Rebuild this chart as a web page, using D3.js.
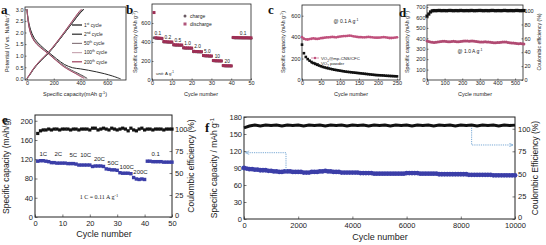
<!DOCTYPE html>
<html>
<head>
<meta charset="utf-8">
<script src="https://cdn.jsdelivr.net/npm/d3@7"></script>
<style>
  body { margin: 0; background: #fff; }
  svg { display: block; font-family: "Liberation Sans", Arial, sans-serif; }
  .tk text { fill: #222; }
  .tk line { stroke: #222; stroke-width: 0.6; }
  .tk path { display: none; }
</style>
</head>
<body>
<svg id="chart"></svg>
<script>
// ---- panel a : charge / discharge profiles [capacity, potential]
var aDis1   = [[0,3.0],[8,2.6],[25,2.15],[55,1.75],[100,1.45],[160,1.15],[220,0.87],[280,0.62],[340,0.48],[400,0.43],[460,0.37],[520,0.3],[580,0.22],[640,0.12],[685,0.03],[700,0]];
var aDis2   = [[0,3.0],[8,2.55],[25,2.05],[55,1.65],[100,1.38],[160,1.1],[220,0.8],[280,0.55],[330,0.38],[380,0.24],[420,0.12],[450,0.02]];
var aDis50  = [[0,3.0],[8,2.5],[25,2.0],[55,1.62],[100,1.36],[160,1.1],[220,0.8],[280,0.54],[330,0.37],[375,0.22],[415,0.1],[440,0.02]];
var aDis100 = [[0,3.0],[8,2.52],[25,2.02],[55,1.64],[100,1.37],[160,1.1],[220,0.79],[275,0.54],[325,0.36],[370,0.22],[410,0.1],[435,0.02]];
var aDis200 = [[0,3.0],[8,2.5],[25,2.0],[55,1.62],[100,1.35],[160,1.08],[220,0.78],[270,0.54],[320,0.36],[365,0.22],[400,0.1],[425,0.02]];
var aCha1   = [[0,0.02],[15,0.12],[45,0.38],[100,0.76],[160,1.1],[220,1.52],[280,1.97],[340,2.42],[400,2.86],[425,3.0]];
var aCha2   = [[0,0.02],[15,0.13],[45,0.4],[100,0.78],[160,1.12],[220,1.53],[280,1.98],[340,2.43],[400,2.87],[422,3.0]];
var aCha50  = [[0,0.02],[15,0.14],[45,0.4],[100,0.79],[160,1.13],[220,1.55],[280,2.0],[340,2.46],[395,2.88],[415,3.0]];
var aCha100 = [[0,0.02],[15,0.14],[45,0.41],[100,0.8],[160,1.14],[220,1.56],[280,2.02],[335,2.45],[392,2.9],[410,3.0]];
var aCha200 = [[0,0.02],[15,0.15],[45,0.42],[100,0.8],[160,1.15],[220,1.57],[280,2.03],[335,2.47],[390,2.9],[405,3.0]];
var aNames  = ["1", "2", "50", "100", "200"];
var aSup    = ["st", "nd", "th", "th", "th"];
var aColors = ["#111", "#2a2a2a", "#8a7a80", "#c9a9b4", "#9c3a5a"];

// ---- panel b : rate performance (cycles 1..50)
var bCycles = d3.range(1, 51);
var bDischarge = [710,445,442,440,438, 405,403,402,400,400, 372,370,370,368,368, 340,338,338,337,336,
                  302,300,300,299,298, 258,256,255,254,253, 205,204,203,202,201, 152,151,150,150,149,
                  448,447,447,446,446,445,445,445,444,444];
var bCharge    = [445,440,438,436,435, 400,399,398,397,397, 368,367,366,365,365, 336,335,334,334,333,
                  298,297,296,296,295, 254,253,252,251,251, 202,201,200,199,199, 149,148,148,147,147,
                  444,443,443,442,442,442,441,441,441,440];
var bRates  = ["0.1","0.2","0.5","1.0","2.0","5.0","10","20","0.1"];
var bRateX  = [3, 8, 13, 18, 23, 28, 33, 38, 46];
var bRateY  = [470, 432, 402, 370, 332, 288, 236, 184, 478];

// ---- panel c : cycling at 0.1 A/g (every 5 cycles)
var cCycles = d3.range(0, 251, 5);
var cComposite = [400,385,380,378,382,385,388,385,383,386,390,
                  392,395,397,398,400,402,400,398,402,405,
                  408,410,410,412,414,412,408,405,402,400,
                  400,398,398,400,402,400,398,396,395,395,
                  396,398,400,398,395,392,392,394,396,398];
var cPowder = [330,250,215,195,180,168,158,150,142,135,128,
               122,117,112,108,104,100,96,93,90,87,
               84,81,78,76,74,72,70,68,66,64,
               62,60,58,56,54,52,50,48,46,45,
               44,43,42,40,39,38,37,36,35,34];

// ---- panel d : long cycling at 1.0 A/g (every 10 cycles)
var dCycles = d3.range(0, 551, 10);
var dCapacity = [375,370,365,362,360,362,365,368,370,372,
                 372,370,368,368,370,372,370,368,368,370,
                 372,374,375,374,372,375,374,372,370,368,
                 366,365,366,368,366,364,362,360,358,358,
                 360,360,362,364,366,364,360,358,356,355,
                 352,350,348,350,348,345];
var dCE = [92,95,98,99.6,100,99.8,100,100.2,99.8,100,
           100,99.8,100,100.2,100,99.8,100,100,99.8,100.2,
           100,99.8,100,100,99.8,100.2,100,99.8,100,100,
           100.2,100,99.8,100,100,99.8,100,100.2,100,99.8,
           100,100,99.8,100,100.2,100,99.8,100,100,99.8,
           100,100.2,100,99.8,100,100];

// ---- panel e : rate test (cycles 1..50)
var eCycles = d3.range(1, 51);
var eCapacity = [116,117,117,116,115, 113,113,112,112,112, 112,111,111,111,110, 108,108,108,108,108,
                 105,106,106,106,105, 100,99,98,98,97, 92,91,91,91,90, 82,79,78,79,78,
                 116,116,115,115,115,115,114,114,114,114];
var eCE = [95,98,99,99,100,99,100,100,99,100, 100,100,99,100,100,99,100,100,100,99,
           101,101,99,100,101,100,99,101,100,99, 100,101,100,98,101,99,98,100,101,99,
           100,100,99,100,100,100,99,100,100,100];
var eRates = ["1C","2C","5C","10C","20C","50C","100C","200C","0.1"];
var eRateX = [3, 8.5, 14, 18.5, 23.5, 28.5, 33.5, 38.5, 44];
var eRateY = [127, 126, 125, 124, 117, 109, 100, 90, 127];

// ---- panel f : 10000 cycles (capacity every 100, CE every 200)
var fCycles = d3.range(0, 10001, 100);
var fCapacity = [90,89,88,88,87,87,86,86,86,85,85,
                 84,84,83,83,84,84,84,83,83,83,
                 83,82,82,82,83,83,83,84,84,85,
                 84,84,83,83,83,82,82,82,82,82,
                 82,82,81,81,81,81,81,80,80,80,
                 80,80,80,80,80,80,80,80,80,81,
                 81,81,81,81,80,80,80,80,80,80,
                 80,79,79,79,79,79,79,79,79,79,
                 79,79,78,78,78,78,78,78,78,78,
                 78,77,77,77,77,77,77,77,77,77];
var fCECycles = d3.range(0, 10001, 200);
var fCE = [101,103,104,103,104,103.5,104,103,104,103.5,
           104,103,104,103.5,104,103,104,103.5,104,103,
           104,103.5,104,103,104,103.5,104,103,104,103.5,
           104,103,104,103.5,104,103,104,103.5,104,103,
           104,103.5,104,103,104,103.5,104,103,104,103.5,104];

var svg = d3.select("#chart").attr("width", 546).attr("height", 245);
var serif = "'Liberation Serif', 'Times New Roman', serif";

function panel(o) {
  var g = svg.append("g");
  var x = d3.scaleLinear().domain(o.xd).range([o.x0, o.x1]);
  var y = d3.scaleLinear().domain(o.yd).range([o.y1, o.y0]);
  var y2 = o.yd2 ? d3.scaleLinear().domain(o.yd2).range([o.y1, o.y0]) : null;

  g.append("g").attr("class", "tk").attr("transform", "translate(0," + o.y1 + ")")
    .call(d3.axisBottom(x).tickValues(o.xt).tickFormat(o.xf || d3.format("d"))
      .tickSizeInner(-o.tk).tickSizeOuter(0).tickPadding(o.tpx || o.tp))
    .attr("font-size", o.fs).attr("font-family", null);
  g.append("g").attr("class", "tk").attr("transform", "translate(" + o.x0 + ",0)")
    .call(d3.axisLeft(y).tickValues(o.yt).tickFormat(o.yf || d3.format("d"))
      .tickSizeInner(-o.tk).tickSizeOuter(0).tickPadding(o.tp))
    .attr("font-size", o.fs).attr("font-family", null);
  if (y2) {
    var r = g.append("g").attr("class", "tk").attr("transform", "translate(" + o.x1 + ",0)")
      .call(d3.axisRight(y2).tickValues(o.yt2).tickFormat(d3.format("d"))
        .tickSizeInner(-o.tk).tickSizeOuter(0).tickPadding(o.tpr || o.tp))
      .attr("font-size", o.fs).attr("font-family", null);
    // lift the bottom "0" a touch so it clears the last x label
    if (o.lift) r.selectAll(".tick text").filter(function(d) { return d === 0; }).attr("dy", "0.1em");
  }
  g.append("rect").attr("x", o.x0).attr("y", o.y0)
    .attr("width", o.x1 - o.x0).attr("height", o.y1 - o.y0)
    .attr("fill", "none").attr("stroke", "#222").attr("stroke-width", o.sw || 0.8);
  return { g: g, x: x, y: y, y2: y2 };
}

function label(g, x, y, parts, size, rot, anchor) {
  var t = g.append("text").attr("x", x).attr("y", y)
    .attr("font-size", size).attr("fill", "#222")
    .attr("text-anchor", anchor || "middle");
  if (rot) t.attr("transform", "rotate(" + rot + "," + x + "," + y + ")");
  parts.forEach(function(p) {
    if (typeof p === "string") t.append("tspan").text(p);
    else t.append("tspan").attr("baseline-shift", p.sub ? "sub" : "super")
      .attr("font-size", size * 0.7).text(p.t);
  });
  return t;
}

function letter(x, y, s) {
  svg.append("text").attr("x", x).attr("y", y).attr("font-family", serif)
    .attr("font-weight", "bold").attr("font-size", 13).attr("fill", "#111").text(s);
}

// ================= a
var pa = panel({ x0: 25, x1: 126, y0: 7, y1: 80, xd: [-15, 740], yd: [-0.05, 3.1],
  xt: [0, 200, 400, 600], yt: [0, 0.5, 1, 1.5, 2, 2.5, 3], yf: d3.format(".1f"),
  fs: 5.5, tk: 1.5, tp: 1.5 });
var aLine = d3.line().x(function(d) { return pa.x(d[0]); }).y(function(d) { return pa.y(d[1]); }).curve(d3.curveMonotoneX);
var aLineY = d3.line().x(function(d) { return pa.x(d[0]); }).y(function(d) { return pa.y(d[1]); }).curve(d3.curveCatmullRom);
[aDis1, aDis2, aDis50, aDis100, aDis200].forEach(function(c, i) {
  pa.g.append("path").attr("d", aLineY(c)).attr("fill", "none").attr("stroke", aColors[i]).attr("stroke-width", 0.9);
});
[aCha1, aCha2, aCha50, aCha100, aCha200].forEach(function(c, i) {
  pa.g.append("path").attr("d", aLine(c)).attr("fill", "none").attr("stroke", aColors[i]).attr("stroke-width", 0.9);
});
aNames.forEach(function(n, i) {
  var yy = 25 + i * 9.2;
  pa.g.append("line").attr("x1", 72).attr("x2", 82).attr("y1", yy).attr("y2", yy)
    .attr("stroke", aColors[i]).attr("stroke-width", 1.2);
  label(pa.g, 84, yy + 1.8, [n, { t: aSup[i] }, " cycle"], 4.8, 0, "start");
});
label(svg, 75, 96, ["Specific capacity(mAh g", { t: "-1" }, ")"], 5.5);
label(svg, 9, 43, ["Potential (V vs. Na/Na", { t: "+" }, ")"], 5.5, -90);
letter(1, 14, "a");

// ================= b
var pb = panel({ x0: 152, x1: 251, y0: 4, y1: 80, xd: [0, 50], yd: [0, 800],
  xt: [0, 10, 20, 30, 40, 50], yt: [0, 200, 400, 600], fs: 5.5, tk: 1.5, tp: 1.5 });
pb.g.selectAll(".chg").data(bCycles).enter().append("circle")
  .attr("cx", function(d) { return pb.x(d); })
  .attr("cy", function(d, i) { return pb.y(bCharge[i]); })
  .attr("r", 1.5).attr("fill", "#6a5a62");
pb.g.selectAll(".dis").data(bCycles).enter().append("rect")
  .attr("x", function(d) { return pb.x(d) - 1.5; })
  .attr("y", function(d, i) { return pb.y(bDischarge[i]) - 1.5; })
  .attr("width", 3).attr("height", 3).attr("fill", "#9e2f55");
bRates.forEach(function(r, i) {
  pb.g.append("text").attr("x", pb.x(bRateX[i])).attr("y", pb.y(bRateY[i]))
    .attr("font-size", 4.8).attr("text-anchor", "middle").attr("fill", "#222").text(r);
});
pb.g.append("circle").attr("cx", 185).attr("cy", 16).attr("r", 1.5).attr("fill", "#6a5a62");
pb.g.append("rect").attr("x", 183.5).attr("y", 22.5).attr("width", 3).attr("height", 3).attr("fill", "#b0557a");
pb.g.append("text").attr("x", 190).attr("y", 18).attr("font-size", 5).attr("fill", "#222").text("charge");
pb.g.append("text").attr("x", 190).attr("y", 25.5).attr("font-size", 5).attr("fill", "#222").text("discharge");
label(pb.g, 156, 75, ["unit: A g", { t: "-1" }], 4.3, 0, "start");
label(svg, 201, 96, ["Cycle number"], 5.5);
label(svg, 137, 42, ["Specific capacity (mAh g", { t: "-1" }, ")"], 5.2, -90);
letter(126, 14, "b");

// ================= c
var pc = panel({ x0: 302, x1: 400, y0: 5, y1: 80, xd: [0, 258], yd: [0, 700],
  xt: [0, 50, 100, 150, 200, 250], yt: [0, 200, 400, 600], fs: 5.5, tk: 1.5, tp: 1.5 });
pc.g.selectAll(".pw").data(cCycles).enter().append("rect")
  .attr("x", function(d) { return pc.x(d) - 1.3; })
  .attr("y", function(d, i) { return pc.y(cPowder[i]) - 1.3; })
  .attr("width", 2.6).attr("height", 2.6).attr("fill", "#111");
pc.g.selectAll(".cp").data(cCycles).enter().append("circle")
  .attr("cx", function(d) { return pc.x(d); })
  .attr("cy", function(d, i) { return pc.y(cComposite[i]); })
  .attr("r", 1.4).attr("fill", "#c0507c");
label(pc.g, 346, 23, ["@ 0.1 A g", { t: "-1" }], 5, 0, "middle");
pc.g.append("line").attr("x1", 311).attr("x2", 319).attr("y1", 58).attr("y2", 58).attr("stroke", "#c0507c").attr("stroke-width", 0.6);
pc.g.append("circle").attr("cx", 315).attr("cy", 58).attr("r", 1.2).attr("fill", "#c0507c");
pc.g.append("line").attr("x1", 311).attr("x2", 319).attr("y1", 63.5).attr("y2", 63.5).attr("stroke", "#111").attr("stroke-width", 0.6);
pc.g.append("rect").attr("x", 314).attr("y", 62.5).attr("width", 2).attr("height", 2).attr("fill", "#111");
label(pc.g, 321, 59.6, ["VO", { t: "2", sub: true }, "@mp-CNS/CFC"], 4.3, 0, "start");
label(pc.g, 321, 65.1, ["VO", { t: "2", sub: true }, " powder"], 4.3, 0, "start");
label(svg, 351, 96, ["Cycle number"], 5.5);
label(svg, 285, 42, ["Specific capacity (mAh g", { t: "-1" }, ")"], 5.2, -90);
letter(268, 14, "c");

// ================= d
var pd = panel({ x0: 427, x1: 523, y0: 5, y1: 80, xd: [0, 545], yd: [0, 720], yd2: [0, 108],
  xt: [0, 100, 200, 300, 400, 500], yt: [0, 100, 200, 300, 400, 500, 600, 700],
  yt2: [0, 20, 40, 60, 80, 100], fs: 5.5, tk: 1.5, tp: 1.5 });
pd.g.selectAll(".ce").data(dCycles).enter().append("rect")
  .attr("x", function(d) { return pd.x(d) - 1.6; })
  .attr("y", function(d, i) { return pd.y2(dCE[i]) - 1.6; })
  .attr("width", 3.2).attr("height", 3.2).attr("fill", "#111");
pd.g.selectAll(".cap").data(dCycles).enter().append("circle")
  .attr("cx", function(d) { return pd.x(d); })
  .attr("cy", function(d, i) { return pd.y(dCapacity[i]); })
  .attr("r", 1.5).attr("fill", "#b04a72");
label(pd.g, 470, 53, ["@ 1.0 A g", { t: "-1" }], 5, 0, "middle");
label(svg, 475, 96, ["Cycle number"], 5.5);
label(svg, 409, 42, ["Specific capacity (mAh g", { t: "-1" }, ")"], 5.2, -90);
label(svg, 541, 42, ["Coulombic efficiency (%)"], 5.2, -90);
letter(399, 17, "d");

// ================= e
var pe = panel({ x0: 35, x1: 172, y0: 115, y1: 217, xd: [0, 50], yd: [0, 212], yd2: [0, 116],
  xt: [0, 10, 20, 30, 40, 50], yt: [0, 40, 80, 120, 160, 200], yt2: [0, 25, 50, 75, 100],
  fs: 7.5, tk: 2.5, tp: 2, tpx: 4, tpr: 3, sw: 1, lift: true });
pe.g.selectAll(".ce").data(eCycles).enter().append("rect")
  .attr("x", function(d) { return pe.x(d) - 1.6; })
  .attr("y", function(d, i) { return pe.y2(eCE[i]) - 1.6; })
  .attr("width", 3.2).attr("height", 3.2).attr("fill", "#111");
pe.g.selectAll(".cap").data(eCycles).enter().append("rect")
  .attr("x", function(d) { return pe.x(d) - 1.7; })
  .attr("y", function(d, i) { return pe.y(eCapacity[i]) - 1.7; })
  .attr("width", 3.4).attr("height", 3.4).attr("fill", "#3b3ea8");
eRates.forEach(function(r, i) {
  pe.g.append("text").attr("x", pe.x(eRateX[i])).attr("y", pe.y(eRateY[i]))
    .attr("font-size", 6).attr("text-anchor", "middle").attr("fill", "#222").text(r);
});
pe.g.append("text").attr("x", 99).attr("y", 199).attr("font-family", serif)
  .attr("font-size", 6).attr("text-anchor", "middle").attr("fill", "#222")
  .text("1 C = 0.11 A g").append("tspan").attr("baseline-shift", "super").attr("font-size", 4.5).text("-1");
label(svg, 104, 237, ["Cycle number"], 9);
label(svg, 9, 166, ["Specific capacity (mAh/g)"], 8.5, -90);
label(svg, 194, 166, ["Coulombic efficiency (%)"], 8.5, -90);
letter(2, 124, "e");

// ================= f
var pf = panel({ x0: 244, x1: 515, y0: 117, y1: 219, xd: [0, 10000], yd: [0, 180], yd2: [0, 113],
  xt: [0, 2000, 4000, 6000, 8000, 10000], yt: [0, 30, 60, 90, 120, 150, 180], yt2: [0, 25, 50, 75, 100],
  fs: 7.5, tk: 2.5, tp: 2, tpx: 4, tpr: 3, sw: 1, lift: true });
pf.g.append("path").datum(fCE)
  .attr("d", d3.line().x(function(d, i) { return pf.x(fCECycles[i]); }).y(function(d) { return pf.y2(d); }))
  .attr("fill", "none").attr("stroke", "#111").attr("stroke-width", 3);
pf.g.selectAll(".cap").data(fCycles).enter().append("circle")
  .attr("cx", function(d) { return pf.x(d); })
  .attr("cy", function(d, i) { return pf.y(fCapacity[i]); })
  .attr("r", 2.4).attr("fill", "#3b3ea8");
// guide arrows
var arrowC = "#6a9fd0";
svg.append("defs").append("marker").attr("id", "ah").attr("viewBox", "0 0 10 10")
  .attr("refX", 9).attr("refY", 5).attr("markerWidth", 5).attr("markerHeight", 5).attr("orient", "auto")
  .append("path").attr("d", "M1,1 L9,5 L1,9").attr("fill", "none").attr("stroke", arrowC).attr("stroke-width", 1.5);
pf.g.append("path")
  .attr("d", "M" + pf.x(1550) + "," + pf.y(86) + "V" + pf.y(117) + "H" + pf.x(60))
  .attr("fill", "none").attr("stroke", arrowC).attr("stroke-width", 0.9).attr("stroke-dasharray", "1.2,1")
  .attr("marker-end", "url(#ah)");
pf.g.append("path")
  .attr("d", "M" + pf.x(8400) + "," + pf.y2(101) + "V" + pf.y2(82) + "H" + pf.x(9920))
  .attr("fill", "none").attr("stroke", arrowC).attr("stroke-width", 0.9).attr("stroke-dasharray", "1.2,1")
  .attr("marker-end", "url(#ah)");
label(svg, 380, 240, ["Cycle number"], 9);
label(svg, 217, 168, ["Specific capacity / mAh g", { t: "-1" }], 8.5, -90);
label(svg, 538, 168, ["Coulombic Efficiency (%)"], 8.5, -90);
letter(205, 132, "f");
</script>
</body>
</html>
